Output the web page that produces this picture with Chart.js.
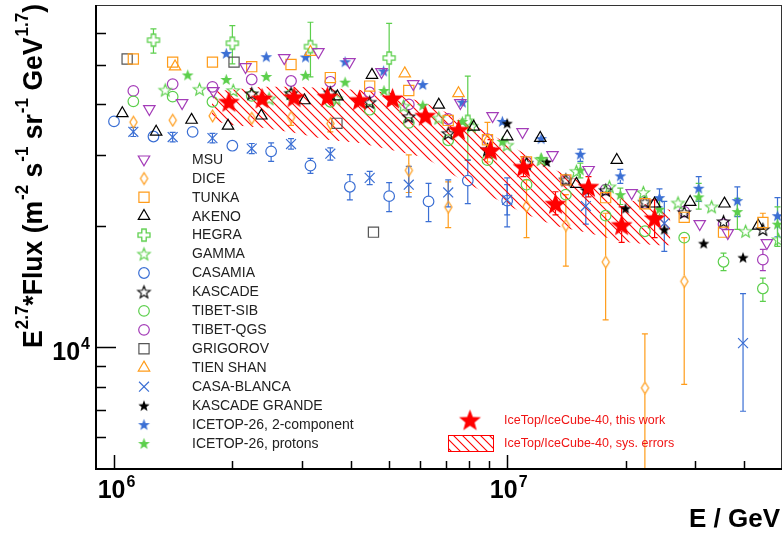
<!DOCTYPE html>
<html><head><meta charset="utf-8">
<script src="https://cdn.jsdelivr.net/npm/chart.js@4.4.1/dist/chart.umd.min.js"></script>
<style>html,body{margin:0;padding:0;background:#fff;}canvas{display:block;}</style>
</head><body>
<canvas id="c" width="783" height="535"></canvas>
<script>
// ---------------- data (E in GeV, E^2.7 * flux) ----------------
const MSU_E = [1.23e6,1.49e6,1.79e6,2.16e6,2.71e6,3.31e6,3.97e6,4.79e6,5.77e6,7.60e6,9.18e6,1.094e7,1.304e7,1.611e7,2.073e7,3.088e7,3.64e7,4.575e7];
const MSU_F = [38970,40340,43190,49530,52130,53940,50960,48140,44950,40340,37460,34190,29990,27540,24150,20240,19220,18160];

const DICE_E  = [1.12e6,1.41e6,1.78e6,2.24e6,2.82e6,3.55e6,5.62e6,7.08e6,8.91e6,1.12e7,1.41e7,1.78e7,2.24e7,2.82e7];
const DICE_F  = [36200,36600,37500,37000,37200,35900,27500,22300,32600,22400,20100,16300,7950,14600];
const DICE_LO = [36200,36600,36200,37000,35500,34200,24200,19800,28800,18700,15900,11700,4000,8100];
const DICE_HI = [36200,36600,38700,37000,38700,37300,30000,25700,36100,26000,23900,21500,10800,18700];

const TUNKA_E  = [1.12e6,1.41e6,1.78e6,2.24e6,2.82e6,3.55e6,4.47e6,5.62e6,7.08e6,8.91e6,1.12e7,1.41e7,1.78e7,2.24e7,2.82e7,3.55e7,4.47e7];
const TUNKA_F  = [51800,50900,50900,49600,50200,46600,44400,43300,36500,32700,28800,26000,23500,22700,21000,19300,20400];
const TUNKA_LO = [51800,50900,50900,49600,50200,46600,44400,43300,36500,32700,28800,26000,23500,22700,21000,19300,19600];
const TUNKA_HI = [51800,50900,50900,49600,50200,46600,44400,43300,36500,32700,28800,26000,23500,22700,21000,19300,21500];

const AKENO_E = [1.05e6,1.28e6,1.575e6,1.95e6,2.37e6,3.05e6,3.70e6,4.53e6,6.70e6,8.22e6,1.0e7,1.214e7,1.50e7,1.90e7,2.37e7,2.92e7,3.57e7,4.35e7];
const AKENO_F = [38000,34200,36600,35400,37500,40900,41800,47300,39900,35200,33300,33000,25400,29100,22700,22900,22700,20000];

const HEGRA_E  = [1.26e6,2.0e6,3.16e6,5.01e6,7.94e6];
const HEGRA_F  = [57700,56700,55600,52100,36300];
const HEGRA_LO = [53600,50400,46800,41700,29100];
const HEGRA_HI = [61500,62700,63900,63500,47000];

const GAMMA_E = [1.35e6,1.65e6,2.01e6,2.48e6,3.67e6,5.45e6,6.70e6,8.11e6,9.99e6,1.22e7,1.50e7,1.82e7,2.22e7,2.72e7,3.31e7,4.04e7,4.90e7];
const GAMMA_F = [43400,43600,43300,41300,41300,39600,37000,35300,31700,29200,27300,25000,24200,22800,22300,19400,18500];

const CASAMIA_E  = [1.0e6,1.26e6,1.585e6,2.0e6,2.51e6,3.16e6,3.98e6,5.01e6,6.31e6,7.94e6,1.0e7];
const CASAMIA_F  = [36300,33300,34200,31600,30600,28200,25000,23700,23000,25900,23100];
const CASAMIA_LO = [35600,32600,33500,30900,28900,27000,23200,21700,20500,22700,19900];
const CASAMIA_HI = [37000,34000,34900,32300,32100,29400,26800,25600,25500,29100,26300];

const KASCADE_E = [2.24e6,2.82e6,3.55e6,4.47e6,5.62e6,7.08e6,8.91e6,1.12e7,1.41e7,1.78e7,2.24e7,2.82e7,3.55e7,4.47e7];
const KASCADE_F = [42500,42600,42700,40500,37300,33900,30900,28600,26000,24500,22900,21600,20500,19600];

const TIBET_E    = [1.12e6,1.41e6,1.78e6,2.24e6,2.82e6,3.55e6,4.47e6,5.62e6,7.08e6,8.91e6,1.12e7,1.41e7,1.78e7,2.24e7,2.82e7,3.55e7,4.47e7];
const TIBSIB_F   = [40700,41800,40600,42000,42200,40600,38800,36000,32600,29100,25300,23900,21200,19400,18700,16300,14000];
const TIBSIB_LO  = [40700,41800,40600,42000,42200,40600,38800,36000,32600,29100,25300,23900,21200,19400,18700,15500,13000];
const TIBSIB_HI  = [40700,41800,40600,42000,42200,40600,38800,36000,32600,29100,25300,23900,21200,19400,18700,17130,14850];
const TIBQGS_F   = [43200,44900,44200,46100,45700,45500,42800,40000,36800,32800,28800,26000,24600,22800,21700,20200,16500];
const TIBQGS_LO  = [43200,44900,44200,46100,45700,45500,42800,40000,36800,32800,28800,26000,24600,22800,21700,20200,15500];
const TIBQGS_HI  = [43200,44900,44200,46100,45700,45500,42800,40000,36800,32800,28800,26000,24600,22800,21700,20200,17500];

const GRIG_E = [1.08e6,2.02e6,3.69e6,4.57e6];
const GRIG_F = [51800,50900,35900,19300];

const TIEN_E = [1.43e6,3.16e6,5.49e6,7.52e6];
const TIEN_F = [49600,53900,47700,42600];

const CASAB_E  = [1.12e6,1.41e6,1.78e6,2.24e6,2.82e6,3.55e6,4.47e6,5.62e6,7.08e6,1.0e7,1.585e7,2.51e7,3.98e7];
const CASAB_F  = [34200,33200,33000,31100,31900,30200,26300,25300,24200,23200,22400,20300,10250];
const CASAB_LO = [33300,32300,32100,30200,31000,29100,25300,23600,22300,21300,20200,17300,6950];
const CASAB_HI = [35100,34100,33900,32000,32900,31200,27300,28100,26000,25300,24700,23000,13600];

const KG_E = [1.0e7,1.26e7,1.58e7,2.0e7,2.51e7,3.16e7,3.98e7];
const KG_F = [35900,28800,24600,22100,19600,18100,16700];

const IT2_E  = [1.93e6,2.44e6,3.07e6,3.87e6,4.85e6,6.1e6,7.69e6,9.72e6,1.22e7,1.535e7,1.94e7,2.44e7,3.07e7,3.85e7,4.87e7];
const IT2_F  = [53500,52500,52400,51000,48400,44800,40500,36300,32900,30100,26600,23500,24800,23100,21200];
const IT2_LO = [52800,51800,51700,50300,47700,44200,39900,35700,32200,28900,25500,22300,23000,21100,18800];
const IT2_HI = [54200,53200,53100,51700,49100,45400,41100,36900,33600,31000,27600,24700,26500,25000,23500];

const ITP_E  = [1.54e6,1.93e6,2.44e6,3.07e6,3.87e6,4.86e6,6.1e6,7.69e6,9.72e6,1.22e7,1.535e7,1.94e7,2.44e7,3.07e7,3.85e7,4.87e7];
const ITP_F  = [47300,46100,46900,47200,45400,43300,39800,36300,32400,29400,27500,23900,22000,23600,21700,20200];
const ITP_LO = [46700,45500,46300,46600,44800,42700,39200,35700,31700,28600,26300,22600,21200,22000,19600,17800];
const ITP_HI = [47900,46700,47500,47800,46000,43900,40400,36900,33100,30200,28600,24800,23300,25500,23400,22300];

const IT40_E  = [1.96e6,2.38e6,2.87e6,3.49e6,4.21e6,5.11e6,6.19e6,7.52e6,9.07e6,1.10e7,1.327e7,1.61e7,1.955e7,2.371e7];
const IT40_F  = [40600,41400,41700,41800,41000,41400,37500,34600,30800,28000,22700,25000,20100,20900];
const IT40_LO = [39800,40600,40900,41000,40200,40600,36700,33400,29500,26500,21300,23600,18200,18700];
const IT40_HI = [41400,42200,42500,42600,41800,42200,38300,35800,32700,29700,24300,26500,22300,23200];

const BAND_E  = [1.775e6,1.96e6,2.38e6,2.87e6,3.49e6,4.21e6,5.11e6,6.19e6,7.52e6,9.07e6,1.10e7,1.327e7,1.61e7,1.955e7,2.371e7,2.60e7];
const BAND_HI = [43000,43400,44200,44200,43900,43400,42700,40300,37000,33800,30300,27500,25300,23500,22300,21900];
const BAND_LO = [36600,35600,35000,34000,32700,32100,30800,29500,26300,23700,21500,20000,19200,18300,17900,17900];

const X_MAJOR = [1e6, 1e7];
const X_MINOR = [2e6,3e6,4e6,5e6,6e6,7e6,8e6,9e6,2e7,3e7,4e7];
const Y_MAJOR = [1e4];
const Y_MINOR = [6000,7000,8000,9000,20000,30000,40000,50000,60000];

// ---------------- styles ----------------
const FONT = '"Liberation Sans", Arial, Helvetica, sans-serif';
const C_PURPLE = '#a43cb8', C_ORANGE = '#ff9c1a', C_BLACK = '#000000', C_GREEN = '#5ccf4c',
      C_BLUE = '#3b6fd4', C_GRAY = '#555555', C_RED = '#ff0000';
const NONE = 'rgba(0,0,0,0)';

function mk(w,h,fn){const c=document.createElement('canvas');c.width=w;c.height=h;fn(c.getContext('2d'),w,h);return c;}
function starPath(ctx,cx,cy,R,r){ctx.beginPath();for(let i=0;i<10;i++){const a=-Math.PI/2+i*Math.PI/5;const q=i%2?r:R;const px=cx+q*Math.cos(a),py=cy+q*Math.sin(a);if(i)ctx.lineTo(px,py);else ctx.moveTo(px,py);}ctx.closePath();}
function starImg(R,fill,stroke,lw){const s=Math.ceil(2*R+4);return mk(s,s,(ctx)=>{starPath(ctx,s/2,s/2+R*0.08,R,R*0.42);if(fill){ctx.fillStyle=fill;ctx.fill();}if(stroke){ctx.strokeStyle=stroke;ctx.lineWidth=lw;ctx.lineJoin='miter';ctx.stroke();}});}
function crossImg(a,b,col){const s=2*a+4;return mk(s,s,(ctx)=>{const c=s/2;const p=[[-b,-a],[b,-a],[b,-b],[a,-b],[a,b],[b,b],[b,a],[-b,a],[-b,b],[-a,b],[-a,-b],[-b,-b]];ctx.beginPath();p.forEach((q,i)=>{i?ctx.lineTo(c+q[0],c+q[1]):ctx.moveTo(c+q[0],c+q[1]);});ctx.closePath();ctx.strokeStyle=col;ctx.lineWidth=1.3;ctx.stroke();});}
function diamondImg(hw,hh,col){const w=2*hw+4,h=2*hh+4;return mk(w,h,(ctx)=>{const cx=w/2,cy=h/2;ctx.beginPath();ctx.moveTo(cx,cy-hh);ctx.lineTo(cx+hw,cy);ctx.lineTo(cx,cy+hh);ctx.lineTo(cx-hw,cy);ctx.closePath();ctx.strokeStyle=col;ctx.lineWidth=1.2;ctx.stroke();});}
function hatchPattern(){const t=mk(9,9,(ctx)=>{ctx.strokeStyle=C_RED;ctx.lineWidth=1.1;ctx.beginPath();ctx.moveTo(0,0);ctx.lineTo(9,9);ctx.moveTo(-4.5,4.5);ctx.lineTo(4.5,13.5);ctx.moveTo(4.5,-4.5);ctx.lineTo(13.5,4.5);ctx.stroke();});return document.createElement('canvas').getContext('2d').createPattern(t,'repeat');}

const IMG_RED   = starImg(11.5,C_RED,null,0);
const IMG_BLUE  = starImg(6.2,C_BLUE,null,0);
const IMG_GREENF= starImg(6.2,C_GREEN,null,0);
const IMG_KG    = starImg(6,C_BLACK,null,0);
const IMG_KAS   = starImg(6.5,null,C_BLACK,1.1);
const IMG_GAM   = starImg(6.5,null,C_GREEN,1.1);
const IMG_HEG   = crossImg(6,2.2,C_GREEN);
const IMG_DICE  = diamondImg(3.6,5.8,C_ORANGE);
const HATCH = hatchPattern();

function pts(E,F){return E.map((e,i)=>({x:e,y:F[i]}));}
function ser(label,E,F,st,extra){
  return Object.assign({label,data:pts(E,F),showLine:false,
    pointStyle:st.ps,pointRadius:st.r,pointRotation:st.rot||0,
    pointBorderColor:st.c,pointBackgroundColor:st.fill||NONE,pointBorderWidth:st.lw==null?1.2:st.lw,
    borderColor:st.c,backgroundColor:st.fill||NONE,order:5,legend:true},extra||{});
}

const datasets = [
  ser('MSU',MSU_E,MSU_F,{ps:'triangle',r:6.6,rot:180,c:C_PURPLE}),
  ser('DICE',DICE_E,DICE_F,{ps:IMG_DICE,r:5,c:C_ORANGE},{errLo:DICE_LO,errHi:DICE_HI,errGap:6}),
  ser('TUNKA',TUNKA_E,TUNKA_F,{ps:'rect',r:7.2,c:C_ORANGE},{errLo:TUNKA_LO,errHi:TUNKA_HI,errGap:5}),
  ser('AKENO',AKENO_E,AKENO_F,{ps:'triangle',r:6.6,c:C_BLACK}),
  ser('HEGRA',HEGRA_E,HEGRA_F,{ps:IMG_HEG,r:6,c:C_GREEN},{errLo:HEGRA_LO,errHi:HEGRA_HI,errGap:6}),
  ser('GAMMA',GAMMA_E,GAMMA_F,{ps:IMG_GAM,r:6,c:C_GREEN}),
  ser('CASAMIA',CASAMIA_E,CASAMIA_F,{ps:'circle',r:5.3,c:C_BLUE},{errLo:CASAMIA_LO,errHi:CASAMIA_HI,errGap:5.3}),
  ser('KASCADE',KASCADE_E,KASCADE_F,{ps:IMG_KAS,r:6,c:C_BLACK}),
  ser('TIBET-SIB',TIBET_E,TIBSIB_F,{ps:'circle',r:5.3,c:C_GREEN},{errLo:TIBSIB_LO,errHi:TIBSIB_HI,errGap:5.3}),
  ser('TIBET-QGS',TIBET_E,TIBQGS_F,{ps:'circle',r:5.3,c:C_PURPLE},{errLo:TIBQGS_LO,errHi:TIBQGS_HI,errGap:5.3}),
  ser('GRIGOROV',GRIG_E,GRIG_F,{ps:'rect',r:7.2,c:C_GRAY}),
  ser('TIEN SHAN',TIEN_E,TIEN_F,{ps:'triangle',r:6.6,c:C_ORANGE}),
  ser('CASA-BLANCA',CASAB_E,CASAB_F,{ps:'crossRot',r:7,c:C_BLUE},{errLo:CASAB_LO,errHi:CASAB_HI,errGap:0}),
  ser('KASCADE GRANDE',KG_E,KG_F,{ps:IMG_KG,r:6,c:C_BLACK}),
  ser('ICETOP-26, 2-component',IT2_E,IT2_F,{ps:IMG_BLUE,r:6,c:C_BLUE},{errLo:IT2_LO,errHi:IT2_HI,errGap:4}),
  ser('ICETOP-26, protons',ITP_E,ITP_F,{ps:IMG_GREENF,r:6,c:C_GREEN},{errLo:ITP_LO,errHi:ITP_HI,errGap:4}),
  ser('IceTop/IceCube-40, this work',IT40_E,IT40_F,{ps:IMG_RED,r:11,c:C_RED},{errLo:IT40_LO,errHi:IT40_HI,errGap:6,order:0,legend:false}),
  {type:'line',label:'band-hi',data:pts(BAND_E,BAND_HI),borderWidth:0,borderColor:NONE,pointRadius:0,fill:false,order:20,legend:false},
  {type:'line',label:'IceTop/IceCube-40, sys. errors',data:pts(BAND_E,BAND_LO),borderWidth:0,borderColor:NONE,pointRadius:0,fill:'-1',backgroundColor:HATCH,order:19,legend:false}
];

// ---------------- plugins ----------------
const errPlugin = {id:'errbars', beforeDatasetsDraw(chart){
  const ctx=chart.ctx,xs=chart.scales.x,ys=chart.scales.y,a=chart.chartArea;
  ctx.save();ctx.beginPath();ctx.rect(a.left,a.top,a.right-a.left,a.bottom-a.top);ctx.clip();
  chart.data.datasets.forEach(ds=>{
    if(!ds.errLo)return;
    ctx.strokeStyle=ds.borderColor;ctx.lineWidth=1.2;
    ds.data.forEach((p,i)=>{
      const lo=ds.errLo[i],hi=ds.errHi[i];
      const px=xs.getPixelForValue(p.x),py=ys.getPixelForValue(p.y);
      const pl=ys.getPixelForValue(lo),ph=ys.getPixelForValue(hi);
      const g=ds.errGap||0;
      ctx.beginPath();
      if(ph<py-g-1){ctx.moveTo(px,py-g);ctx.lineTo(px,ph);ctx.moveTo(px-3,ph);ctx.lineTo(px+3,ph);}
      if(pl>py+g+1){ctx.moveTo(px,py+g);ctx.lineTo(px,pl);ctx.moveTo(px-3,pl);ctx.lineTo(px+3,pl);}
      ctx.stroke();
    });
  });
  ctx.restore();
}};

function supText(ctx,x,y,base,sup,bf,sf,raise,align){
  ctx.font='bold '+bf+'px '+FONT;const wb=ctx.measureText(base).width;
  ctx.font='bold '+sf+'px '+FONT;const ws=ctx.measureText(sup).width;
  let x0=x; if(align==='center')x0=x-(wb+ws)/2; else if(align==='right')x0=x-(wb+ws);
  ctx.textAlign='left';ctx.textBaseline='alphabetic';
  ctx.font='bold '+bf+'px '+FONT;ctx.fillText(base,x0,y);
  ctx.font='bold '+sf+'px '+FONT;ctx.fillText(sup,x0+wb+1,y-raise);
}

const decoPlugin = {id:'deco', afterDraw(chart){
  const ctx=chart.ctx,xs=chart.scales.x,ys=chart.scales.y,a=chart.chartArea;
  ctx.save();
  // frame
  ctx.strokeStyle='#333';ctx.lineWidth=1;
  ctx.strokeRect(a.left+0.5,a.top+0.5,a.right-a.left-1,a.bottom-a.top-1);
  ctx.strokeStyle='#000';ctx.lineWidth=2;
  ctx.beginPath();ctx.moveTo(a.left,a.top);ctx.lineTo(a.left,a.bottom);ctx.lineTo(a.right,a.bottom);ctx.stroke();
  // ticks
  ctx.lineWidth=1.5;ctx.strokeStyle='#000';ctx.beginPath();
  X_MAJOR.forEach(v=>{const p=Math.round(xs.getPixelForValue(v))+0.5;ctx.moveTo(p,a.bottom);ctx.lineTo(p,a.bottom-14);});
  X_MINOR.forEach(v=>{const p=Math.round(xs.getPixelForValue(v))+0.5;ctx.moveTo(p,a.bottom);ctx.lineTo(p,a.bottom-8);});
  Y_MAJOR.forEach(v=>{const p=Math.round(ys.getPixelForValue(v))+0.5;ctx.moveTo(a.left,p);ctx.lineTo(a.left+20,p);});
  Y_MINOR.forEach(v=>{const p=Math.round(ys.getPixelForValue(v))+0.5;ctx.moveTo(a.left,p);ctx.lineTo(a.left+10,p);});
  ctx.stroke();
  // tick labels
  ctx.fillStyle='#000';
  supText(ctx,xs.getPixelForValue(1e6)+2,498,'10','6',25,16,11,'center');
  supText(ctx,xs.getPixelForValue(1e7)+1,498,'10','7',25,16,11,'center');
  supText(ctx,89,ys.getPixelForValue(1e4)+12.5,'10','4',25,16,11,'right');
  // x title
  ctx.font='bold 26px '+FONT;ctx.textAlign='right';ctx.textBaseline='alphabetic';
  ctx.fillText('E / GeV',780,527);
  // y title
  const segs=[['E',0],['2.7',1],['*Flux (m',0],['-2',1],[' s',0],['-1',1],[' sr',0],['-1',1],[' GeV',0],['1.7',1],[')',0]];
  const bf='bold 28px '+FONT,sf='bold 18px '+FONT;
  let tot=0;segs.forEach(s=>{ctx.font=s[1]?sf:bf;tot+=ctx.measureText(s[0]).width+(s[1]?1:0);});
  ctx.save();ctx.translate(42,348);ctx.rotate(-Math.PI/2);ctx.scale(344/tot,1);
  ctx.textAlign='left';let cx=0;
  segs.forEach(s=>{ctx.font=s[1]?sf:bf;ctx.fillText(s[0],cx+(s[1]?1:0),s[1]?-14:0);cx+=ctx.measureText(s[0]).width+(s[1]?1:0);});
  ctx.restore();
  // left legend
  const dsl=chart.data.datasets.filter(d=>d.legend);
  ctx.font='14px '+FONT;
  dsl.forEach((d,i)=>{
    const y=159.3+i*18.95;
    ctx.fillStyle=d.pointBackgroundColor;ctx.strokeStyle=d.pointBorderColor;ctx.lineWidth=d.pointBorderWidth;
    Chart.helpers.drawPoint(ctx,{pointStyle:d.pointStyle,radius:d.pointRadius,rotation:d.pointRotation,borderWidth:d.pointBorderWidth},144,y);
    ctx.fillStyle='#222';ctx.font='14px '+FONT;ctx.textAlign='left';ctx.textBaseline='middle';
    ctx.fillText(d.label,192,y+0.5);
  });
  // right legend
  const red=chart.data.datasets[16], band=chart.data.datasets[18];
  ctx.drawImage(IMG_RED,470-IMG_RED.width/2,420-IMG_RED.height/2);
  ctx.fillStyle=HATCH;ctx.fillRect(448.5,435.5,45,16);
  ctx.strokeStyle=C_RED;ctx.lineWidth=1;ctx.strokeRect(448.5,435.5,45,16);
  ctx.fillStyle='#f01414';ctx.font='12.5px '+FONT;ctx.textAlign='left';ctx.textBaseline='middle';
  ctx.fillText(red.label,504,420.5);
  ctx.fillText(band.label,504,444);
  ctx.restore();
}};

new Chart(document.getElementById('c'),{
  type:'scatter',
  data:{datasets},
  options:{
    responsive:false,animation:false,devicePixelRatio:1,events:[],
    layout:{autoPadding:false,padding:{left:96,top:5,right:1,bottom:66}},
    plugins:{legend:{display:false},tooltip:{enabled:false},title:{display:false}},
    scales:{
      x:{type:'logarithmic',min:9e5,max:5e7,display:false},
      y:{type:'logarithmic',min:5000,max:70500,display:false}
    }
  },
  plugins:[errPlugin,decoPlugin]
});
</script>
</body></html>
